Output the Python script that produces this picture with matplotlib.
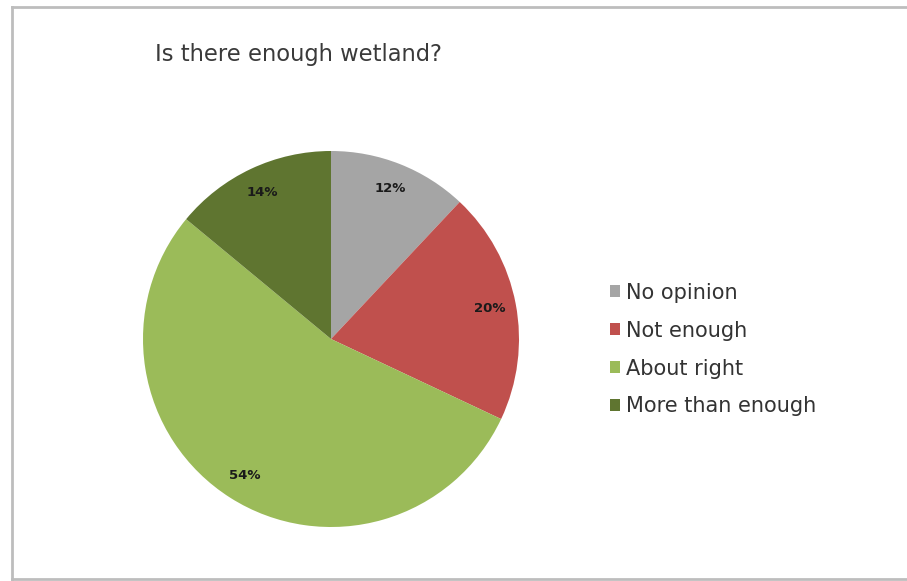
import matplotlib.pyplot as plt
from matplotlib.lines import Line2D

labels = ['No opinion', 'Not enough', 'About right', 'More than enough']
values = [12, 20, 54, 14]
colors = ['#A5A5A5', '#C0504D', '#9BBB59', '#5F7530']

W, H = 907, 581
fig = plt.figure(figsize=(W / 100, H / 100), dpi=100)
plt.rcParams['font.family'] = ['DejaVu Sans']

# pie area: centre (331, 339), radius 188 px
cx, cy, r = 331, 339, 188
ax = fig.add_axes([(cx - r) / W, (H - cy - r) / H, 2 * r / W, 2 * r / H])
wedges, texts, autotexts = ax.pie(values, colors=colors, startangle=90, counterclock=False,
                                  autopct='%d%%', pctdistance=0.86, radius=1,
                                  wedgeprops=dict(linewidth=0))
for t in autotexts:
    t.set_fontsize(9.5)
    t.set_fontweight('bold')
    t.set_color('#1a1a1a')
ax.set_xlim(-1, 1)
ax.set_ylim(-1, 1)
ax.set_aspect('equal')

fig.text(155 / W, 1 - 55 / H, 'Is there enough wetland?', fontsize=16.3, color='#3a3a3a',
         va='center', ha='left')

fig.legend(wedges, labels, loc='upper left', bbox_to_anchor=(591 / W, 1 - 264 / H),
           frameon=False, fontsize=15, handlelength=0.5, handleheight=0.5,
           handletextpad=0.3, labelspacing=0.86, labelcolor='#333333')

# chart frame
frame = dict(color='#BDBDBD', linewidth=2, transform=fig.transFigure)
fig.add_artist(Line2D([12 / W, 12 / W], [1 - 7 / H, 1 - 579 / H], **frame))
fig.add_artist(Line2D([12 / W, 1], [1 - 7 / H, 1 - 7 / H], **frame))
fig.add_artist(Line2D([12 / W, 1], [1 - 579 / H, 1 - 579 / H], **frame))

fig.savefig('out.png', dpi=100)
